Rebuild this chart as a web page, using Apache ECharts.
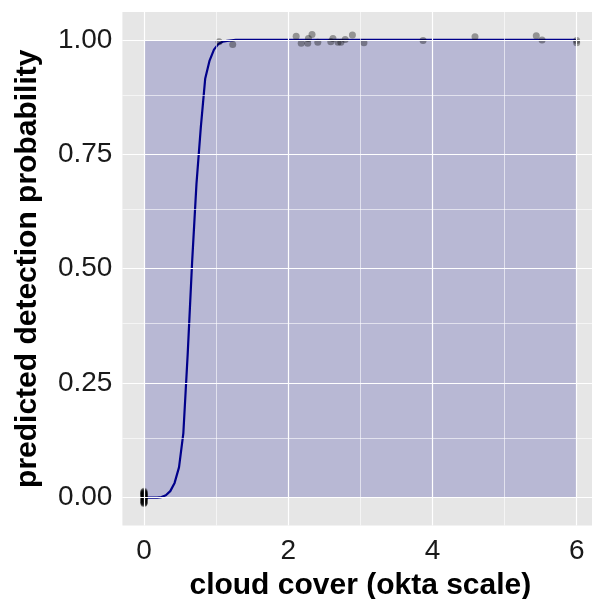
<!DOCTYPE html>
<html>
<head>
<meta charset="utf-8">
<script src="https://cdn.jsdelivr.net/npm/echarts@6/dist/echarts.min.js"></script>
<style>
  html, body { margin: 0; padding: 0; background: #ffffff; }
  #chart { width: 592px; height: 599px; }
</style>
</head>
<body>
<div id="chart"></div>
<script>
// Axis breaks
const xTicks = [0, 2, 4, 6];
const xMinor = [1, 3, 5];
const yTicks = [0, 0.25, 0.5, 0.75, 1];
const yMinor = [0.125, 0.375, 0.625, 0.875];

// Fitted detection probability along cloud cover
const curveX = [0, 0.061, 0.121, 0.182, 0.242, 0.303, 0.364, 0.424, 0.485, 0.545,
                0.606, 0.667, 0.727, 0.788, 0.848, 0.909, 0.970, 1.030, 1.091, 1.152,
                1.212, 1.273, 6];
const curveP = [0.000, 0.000, 0.000, 0.000, 0.001, 0.005, 0.014, 0.032, 0.066, 0.140,
                0.315, 0.515, 0.685, 0.810, 0.915, 0.955, 0.979, 0.991, 0.996, 0.998,
                0.999, 1.000, 1.000];

// Confidence band
const bandX = [0, 6];
const bandLower = [0, 0];
const bandUpper = [1, 1];

// Observed detections (jittered)
const obsX = [-0.006, 0.004, 0.000, -0.004, 0.005, 0.000, -0.005, 0.003, 0.000, 0.004, -0.003, 0.002, -0.002,
              0.001, -0.001, 0.003, -0.003, 0.000, 0.002, -0.002, 0.004, -0.004, 0.001, -0.001,
              1.04, 1.23, 2.11, 2.18, 2.27, 2.28, 2.33, 2.41, 2.59, 2.62, 2.69, 2.73, 2.79, 2.89, 3.05,
              3.87, 4.59, 5.44, 5.52, 6.00, 6.00];
const obsY = [0.012, 0.009, 0.005, 0.002, -0.001, -0.004, -0.007, -0.010, -0.012, 0.000, 0.008, 0.014, -0.013,
              0.011, 0.006, -0.003, -0.009, 0.003, -0.006, 0.010, 0.004, -0.002, -0.011, 0.007,
              0.996, 0.990, 1.008, 0.993, 0.993, 1.003, 1.012, 0.995, 0.996, 1.003, 0.995, 0.995, 1.001, 1.011, 0.994,
              0.999, 1.007, 1.009, 1.000, 0.999, 0.994];

const zip = (a, b) => a.map((v, i) => [v, b[i]]);
const FONT = 'Liberation Sans, Arial, sans-serif';

const gridLines = []
  .concat(yTicks.map(v => ({ yAxis: v, lineStyle: { width: 1.2 } })))
  .concat(yMinor.map(v => ({ yAxis: v, lineStyle: { width: 0.6 } })))
  .concat(xTicks.map(v => ({ xAxis: v, lineStyle: { width: 1.2 } })))
  .concat(xMinor.map(v => ({ xAxis: v, lineStyle: { width: 0.6 } })));

// band polygon: upper edge left-to-right, lower edge back
const bandRows = bandX.map((x, i) => [x, bandLower[i], bandUpper[i]]);

const chart = echarts.init(document.getElementById('chart'));
chart.setOption({
  animation: false,
  grid: {
    left: 122.4, top: 12, width: 475.9, height: 513.5,
    containLabel: false, outerBoundsMode: 'none',
    show: true, backgroundColor: '#E6E6E6', borderWidth: 0
  },
  xAxis: {
    type: 'value', min: -0.3, max: 6.3,
    name: 'cloud cover (okta scale)', nameLocation: 'middle', nameGap: 34,
    nameTextStyle: { fontSize: 30, fontWeight: 'bold', color: '#000', fontFamily: FONT },
    axisLine: { show: false },
    axisTick: { show: true, customValues: xTicks, length: 4, lineStyle: { color: '#333', width: 1 } },
    axisLabel: { customValues: xTicks, fontSize: 28, color: '#1A1A1A', fontFamily: FONT, margin: 12 },
    splitLine: { show: false }
  },
  yAxis: {
    type: 'value', min: -0.0611, max: 1.0611,
    name: 'predicted detection probability', nameLocation: 'middle', nameGap: 80,
    nameTextStyle: { fontSize: 30, fontWeight: 'bold', color: '#000', fontFamily: FONT },
    axisLine: { show: false },
    axisTick: { show: true, customValues: yTicks, length: 4, lineStyle: { color: '#333', width: 1 } },
    axisLabel: { customValues: yTicks, fontSize: 28, color: '#1A1A1A', fontFamily: FONT, margin: 10,
                 formatter: v => v.toFixed(2) },
    splitLine: { show: false }
  },
  series: [
    {
      // panel grid lines
      type: 'line', data: [], z: 1, silent: true,
      markLine: {
        silent: true, symbol: 'none', animation: false,
        label: { show: false },
        lineStyle: { color: '#FFFFFF', type: 'solid', width: 1.2 },
        emphasis: { disabled: true },
        data: gridLines
      }
    },
    {
      type: 'custom', z: 2, silent: true,
      data: bandRows,
      encode: { x: 0, y: [1, 2] },
      renderItem: (params, api) => {
        if (params.dataIndex !== 0) return null;
        const upper = bandRows.map(r => api.coord([r[0], r[2]]));
        const lower = bandRows.map(r => api.coord([r[0], r[1]])).reverse();
        return {
          type: 'polygon',
          shape: { points: upper.concat(lower) },
          style: { fill: 'rgba(0,0,139,0.2)' }
        };
      }
    },
    {
      type: 'line', data: zip(curveX, curveP), z: 3,
      symbol: 'none', smooth: false,
      lineStyle: { color: '#00008B', width: 2.2 }
    },
    {
      type: 'scatter', data: zip(obsX, obsY), z: 4,
      symbol: 'circle', symbolSize: 7,
      itemStyle: { color: 'rgba(0,0,0,0.45)' }
    }
  ]
});
</script>
</body>
</html>
